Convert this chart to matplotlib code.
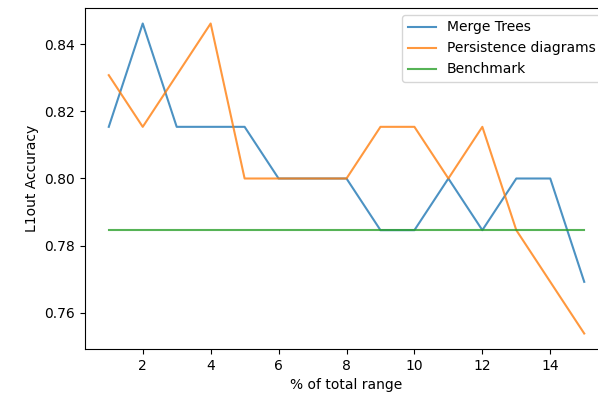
import matplotlib
matplotlib.use("Agg")
import matplotlib.pyplot as plt

# percentage of total range used
pct = [1, 2, 3, 4, 5, 6, 7, 8, 9, 10, 11, 12, 13, 14, 15]

# leave-one-out accuracies (n = 65)
merge_trees = [0.8154, 0.8462, 0.8154, 0.8154, 0.8154, 0.8, 0.8, 0.8,
               0.7846, 0.7846, 0.8, 0.7846, 0.8, 0.8, 0.7692]
persistence = [0.8308, 0.8154, 0.8308, 0.8462, 0.8, 0.8, 0.8, 0.8,
               0.8154, 0.8154, 0.8, 0.8154, 0.7846, 0.7692, 0.7538]
benchmark = [0.7846] * len(pct)

fig = plt.figure(figsize=(5.98, 4.0), dpi=100)
W, H = 598, 400
ax = fig.add_axes([85 / W, (H - 349) / H, 523 / W, 341 / H])

ax.plot(pct, merge_trees, label="Merge Trees", alpha=0.8, lw=1.5)
ax.plot(pct, persistence, label="Persistence diagrams", alpha=0.8, lw=1.5)
ax.plot(pct, benchmark, label="Benchmark", alpha=0.8, lw=1.5)

ax.set_xlabel("% of total range")
ax.set_ylabel("L1out Accuracy")
ax.legend(loc="upper right")

fig.savefig("out.png", dpi=100)
